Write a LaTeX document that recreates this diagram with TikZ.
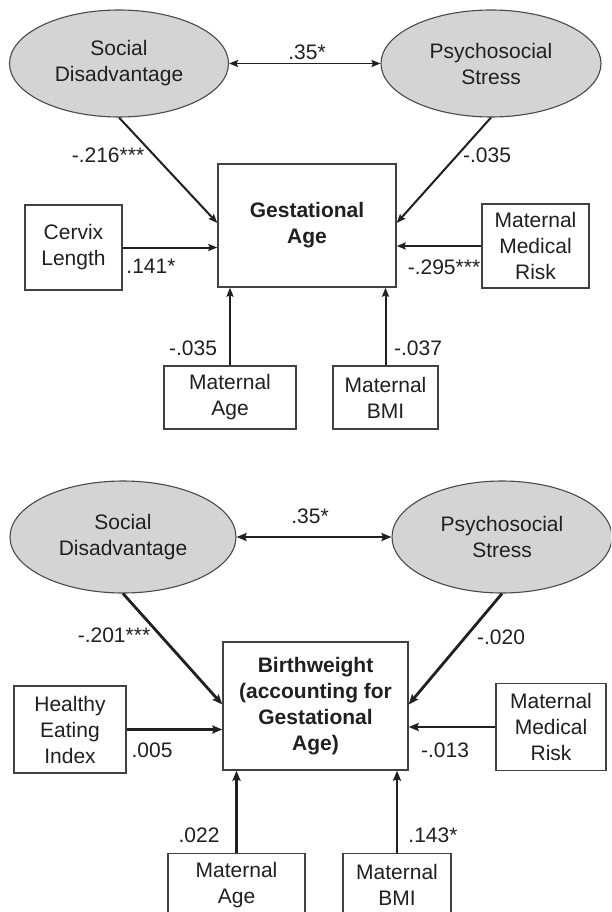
\documentclass[tikz,border=0pt]{standalone}
\usepackage{fontspec}
\setmainfont{Liberation Sans}
\usetikzlibrary{shapes.geometric,arrows.meta}
\definecolor{ink}{HTML}{202020}
\definecolor{ellfill}{HTML}{D4D4D4}
\definecolor{ellline}{HTML}{4A4A4A}
\begin{document}
\begin{tikzpicture}[x=1pt,y=-1pt,
  every node/.style={font=\fontsize{21}{26}\selectfont, text=ink, align=center, inner sep=0pt},
  latent/.style={ellipse, draw=ellline, line width=1.1pt, fill=ellfill},
  obsbox/.style={rectangle, draw=ink!85, line width=1.4pt},
  boldtext/.style={font=\fontsize{21}{26}\selectfont\bfseries},
  pathA/.style={draw=ink, line width=2pt, -{Stealth[length=9pt,width=7pt,inset=1.5pt]}},
  pathB/.style={draw=ink, line width=2.8pt, -{Stealth[length=10pt,width=8pt,inset=1.5pt]}},
  covA/.style={draw=ink, line width=1.9pt, {Stealth[length=9pt,width=7pt,inset=1.5pt]}-{Stealth[length=9pt,width=7pt,inset=1.5pt]}},
  covB/.style={draw=ink, line width=2.8pt, {Stealth[length=10pt,width=8pt,inset=1.5pt]}-{Stealth[length=10pt,width=8pt,inset=1.5pt]}}
]
\clip (0,0) rectangle (611,912);
\fill[white] (0,0) rectangle (611,912);

% ---------------- top panel ----------------
\node[latent, minimum width=219pt, minimum height=107pt] (sdA) at (119,63.5) {Social\\Disadvantage};
\node[latent, minimum width=220pt, minimum height=107pt] (psA) at (491,63.5) {Psychosocial\\Stress};
\node[obsbox, boldtext, minimum width=178pt, minimum height=123pt] (gA) at (307,225.5) {Gestational\\Age};
\node[obsbox, minimum width=97pt, minimum height=85pt] (cervA) at (73.5,247.5) {Cervix\\Length};
\node[obsbox, minimum width=107pt, minimum height=84pt] (mmrA) at (535.5,246) {Maternal\\Medical\\Risk};
\node[obsbox, minimum width=132pt, minimum height=63pt] (ageA) at (230,397.5) {Maternal\\Age};
\node[obsbox, minimum width=105pt, minimum height=63pt] (bmiA) at (385.5,397.5) {Maternal\\BMI};

\draw[covA] (sdA.east) -- (psA.west);
\draw[pathA] (sdA.south) -- ([yshift=2.5pt]gA.west);
\draw[pathA] (psA.south) -- ([yshift=2.5pt]gA.east);
\draw[pathA] (cervA.east) -- (cervA.east -| gA.west);
\draw[pathA] (mmrA.west) -- (mmrA.west -| gA.east);
\draw[pathA] (ageA.north) -- (ageA.north |- gA.south);
\draw[pathA] (bmiA.north) -- (bmiA.north |- gA.south);

\node (lA1) at (307,52) {.35*};
\node (lA2) at (108,155) {-.216***};
\node (lA3) at (487,155) {-.035};
\node (lA4) at (151,266) {.141*};
\node (lA5) at (444,267) {-.295***};
\node (lA6) at (193,348) {-.035};
\node (lA7) at (418,348) {-.037};

% ---------------- bottom panel ----------------
\node[latent, minimum width=226pt, minimum height=112pt] (sdB) at (123,537) {Social\\Disadvantage};
\node[latent, minimum width=220pt, minimum height=112pt] (psB) at (502,537) {Psychosocial\\Stress};
\node[obsbox, boldtext, minimum width=185pt, minimum height=128pt] (bwB) at (315.5,706) {Birthweight\\(accounting for\\Gestational\\Age)};
\node[obsbox, minimum width=112pt, minimum height=87pt] (heiB) at (70,729.5) {Healthy\\Eating\\Index};
\node[obsbox, minimum width=110pt, minimum height=87.5pt] (mmrB) at (551,727) {Maternal\\Medical\\Risk};
\node[obsbox, minimum width=137pt, minimum height=63pt] (ageB) at (236.5,885) {Maternal\\Age};
\node[obsbox, minimum width=108pt, minimum height=63pt] (bmiB) at (397,885) {Maternal\\BMI};

\draw[covB] (sdB.east) -- (psB.west);
\draw[pathB] (sdB.south) -- ([yshift=1.5pt]bwB.west);
\draw[pathB] (psB.south) -- ([yshift=1.5pt]bwB.east);
\draw[pathB] (heiB.east) -- (heiB.east -| bwB.west);
\draw[pathB] (mmrB.west) -- (mmrB.west -| bwB.east);
\draw[pathB] (ageB.north) -- (ageB.north |- bwB.south);
\draw[pathB] (bmiB.north) -- (bmiB.north |- bwB.south);

\node (lB1) at (310,516) {.35*};
\node (lB2) at (114,635) {-.201***};
\node (lB3) at (501,637) {-.020};
\node (lB4) at (152,750) {.005};
\node (lB5) at (445,750) {-.013};
\node (lB6) at (199,835) {.022};
\node (lB7) at (433,835) {.143*};
\end{tikzpicture}
\end{document}
